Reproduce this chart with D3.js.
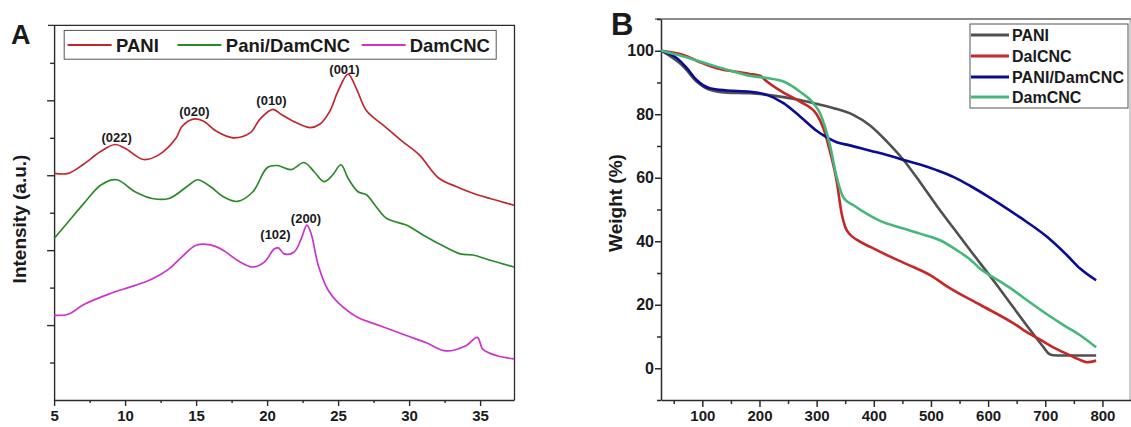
<!DOCTYPE html>
<html>
<head>
<meta charset="utf-8">
<script src="https://cdn.jsdelivr.net/npm/d3@7"></script>
<style>
  html, body { margin: 0; padding: 0; background: #fff; }
  svg { display: block; }
  text { font-family: "Liberation Sans", Arial, sans-serif; fill: #1a1a1a; }
</style>
</head>
<body>
<svg id="chart" width="1131" height="427"></svg>
<script>
// ---------- Panel A: XRD (2θ, arbitrary intensity) ----------
const xrdTicksMajor = [5, 10, 15, 20, 25, 30, 35];
const xrdTicksMinor = [7.5, 12.5, 17.5, 22.5, 27.5, 32.5];
const xrdSeriesNames = ["PANI", "Pani/DamCNC", "DamCNC"];
const xrdPani = [[5,6.05],[6,6.05],[7.1,6.3],[8.3,6.64],[9.3,6.82],[10,6.72],[11.3,6.42],[12.4,6.55],[13.6,7.0],[14,7.3],[14.8,7.5],[15.5,7.45],[16.4,7.18],[17.6,7.0],[18.8,7.13],[19.5,7.5],[20.4,7.76],[21.0,7.62],[21.8,7.45],[23.0,7.27],[23.7,7.36],[24.4,7.7],[25.0,8.25],[25.7,8.7],[26.3,8.3],[27.0,7.72],[28.3,7.3],[29.5,6.91],[30.7,6.55],[32.1,5.92],[33.3,5.7],[34.5,5.52],[35.7,5.38],[37.4,5.2]];
const xrdComposite = [[5,4.31],[6,4.76],[7.1,5.25],[8.3,5.74],[9.4,5.88],[10.7,5.56],[11.9,5.38],[13.1,5.38],[14.5,5.74],[15.1,5.88],[16,5.7],[16.9,5.43],[17.9,5.3],[19,5.56],[20,6.2],[20.7,6.26],[21.7,6.15],[22.6,6.34],[23.3,6.1],[24,5.83],[24.6,6.0],[25.2,6.28],[25.7,5.92],[26.4,5.56],[27,5.48],[27.6,5.2],[28.4,4.85],[29.8,4.67],[31,4.4],[32.1,4.17],[33.6,3.9],[34.5,3.87],[35.7,3.73],[37.4,3.55]];
const xrdDamCNC = [[5,2.26],[6,2.29],[7.1,2.55],[8.8,2.82],[10.7,3.06],[11.9,3.23],[13.1,3.5],[14,3.82],[15,4.13],[16,4.14],[16.9,4.0],[17.9,3.73],[19,3.55],[19.8,3.68],[20.5,4.03],[20.8,4.06],[21.2,3.9],[21.9,3.95],[22.4,4.3],[22.8,4.67],[23.1,4.44],[23.6,3.6],[24.3,2.93],[25,2.6],[26.4,2.2],[27.9,1.99],[29.8,1.72],[31.2,1.53],[32.6,1.31],[34,1.45],[34.8,1.67],[35.2,1.35],[36.2,1.18],[37.4,1.1]];
const xrdPeakLabels = ["(022)", "(020)", "(010)", "(001)", "(102)", "(200)"];
const xrdPeakPos = [[9.4,6.89],[14.88,7.59],[20.31,7.88],[25.45,8.7],[20.59,4.29],[22.74,4.72]];

// ---------- Panel B: TGA ----------
const tgaTicksMajorX = [100, 200, 300, 400, 500, 600, 700, 800];
const tgaTicksMinorX = [50, 150, 250, 350, 450, 550, 650, 750];
const tgaTicksMajorY = [0, 20, 40, 60, 80, 100];
const tgaTicksMinorY = [-10, 10, 30, 50, 70, 90, 110];
const tgaSeriesNames = ["PANI", "DalCNC", "PANI/DamCNC", "DamCNC"];
const tgaPani = [[28,100],[67,95.0],[90,90.3],[113,87.7],[143,86.8],[183,86.6],[213,86.1],[242,85.4],[271,84.5],[306,83.0],[330,81.9],[364,79.8],[394,76.4],[423,71.4],[452,65.6],[481,58.6],[510,51.2],[540,44.0],[569,37.1],[615,26.3],[644,19.2],[673,12.2],[697,6.6],[706,4.6],[714,4.1],[730,4.0],[789,4.0]];
const tgaDalCNC = [[28,100],[67,98.7],[96,96.4],[125,94.5],[154,93.5],[183,92.7],[201,92.1],[213,90.3],[242,86.8],[271,84],[300,80],[312,75.5],[323,68.5],[335,59],[344,48.5],[350,44.5],[358,42.2],[370,40.5],[394,38.2],[440,34.2],[470,31.8],[500,29.2],[528,25.8],[586,20],[644,14.2],[673,10.8],[691,9.0],[714,6.6],[738,4.5],[761,2.6],[773,1.9],[789,2.4]];
const tgaComposite = [[28,100],[55,97.7],[73,94.5],[90,90.8],[113,88.2],[143,87.5],[183,87.1],[213,86.1],[242,83.5],[271,79.3],[300,74.8],[315,73.0],[335,71.2],[358,70.2],[394,68.5],[423,67.2],[452,65.6],[481,64.2],[510,62.4],[540,60.2],[569,57.4],[598,54.3],[627,51.0],[656,47.5],[703,41.4],[738,35.6],[761,31.4],[789,27.7]];
const tgaDamCNC = [[28,100],[67,98.2],[96,96.6],[125,95],[154,93.5],[183,92.1],[213,91.4],[242,90.3],[271,87.1],[294,83.5],[306,80.3],[323,70.5],[335,60.3],[347,53.7],[364,51.4],[388,48.6],[411,46.4],[452,44.0],[481,42.4],[516,40.3],[545,37.2],[569,34.2],[586,31.3],[615,28.0],[644,24.6],[673,20.8],[703,17.0],[732,13.6],[761,10.4],[789,6.6]];

const svg = d3.select("#chart");
const axisColor = "#2b2b2b";
const tickFont = sel => sel.attr("font-size", 15).attr("font-weight", "bold").attr("fill", "#1a1a1a")
  .attr("font-family", "Liberation Sans, Arial, sans-serif");

// ================= PANEL A =================
const xA = d3.scaleLinear().domain([5, 37.4]).range([54.1, 514.2]);
const yA = d3.scaleLinear().domain([0, 10]).range([400, 25.4]);
const gA = svg.append("g");
const colorsA = ["#c1272d", "#2a8a2a", "#cc33cc"];

// frame
gA.append("line").attr("x1", 48).attr("x2", 515).attr("y1", 25.4).attr("y2", 25.4).attr("stroke", axisColor).attr("stroke-width", 1.3);
gA.append("line").attr("x1", 514.5).attr("x2", 514.5).attr("y1", 25.4).attr("y2", 400).attr("stroke", axisColor).attr("stroke-width", 1.3);

// bottom axis
const gAB = gA.append("g").attr("transform", "translate(0,400)")
  .call(d3.axisBottom(xA).tickValues(xrdTicksMajor).tickSize(6).tickSizeOuter(0).tickPadding(4));
gAB.selectAll(".tick text").call(tickFont);
gA.append("g").attr("transform", "translate(0,400)")
  .call(d3.axisBottom(xA).tickValues(xrdTicksMinor).tickSize(3).tickSizeOuter(0).tickFormat(""))
  .select(".domain").remove();
// left axis
gA.append("g").attr("transform", "translate(54.1,0)")
  .call(d3.axisLeft(yA).tickValues([2, 4, 6, 8]).tickSize(7).tickSizeOuter(0).tickFormat(""));
gA.append("g").attr("transform", "translate(54.1,0)")
  .call(d3.axisLeft(yA).tickValues([1, 3, 5, 7, 9]).tickSize(4).tickSizeOuter(0).tickFormat(""))
  .select(".domain").remove();
gA.selectAll(".domain, .tick line").attr("stroke", axisColor).attr("stroke-width", 1.4);

// curves
const lineA = d3.line().x(d => xA(d[0])).y(d => yA(d[1])).curve(d3.curveCatmullRom.alpha(0.5));
[xrdPani, xrdComposite, xrdDamCNC].forEach((s, i) => {
  gA.append("path").datum(s).attr("d", lineA).attr("fill", "none")
    .attr("stroke", colorsA[i]).attr("stroke-width", 1.7);
});

// peak labels
xrdPeakLabels.forEach((t, i) => {
  gA.append("text").attr("x", xA(xrdPeakPos[i][0])).attr("y", yA(xrdPeakPos[i][1]))
    .attr("text-anchor", "middle").attr("font-size", 13).attr("font-weight", "bold").text(t);
});

// legend A
gA.append("rect").attr("x", 64.2).attr("y", 30.4).attr("width", 432).attr("height", 28.8)
  .attr("fill", "#fff").attr("stroke", "#555").attr("stroke-width", 1);
const legA = [[67.6, 111.6, 116], [177.5, 221.4, 225.8], [361.7, 405.7, 409.7]];
legA.forEach((p, i) => {
  gA.append("line").attr("x1", p[0]).attr("x2", p[1]).attr("y1", 45).attr("y2", 45)
    .attr("stroke", colorsA[i]).attr("stroke-width", 1.8);
  gA.append("text").attr("x", p[2]).attr("y", 51.5).attr("font-size", 18.5).attr("font-weight", "bold").text(xrdSeriesNames[i]);
});

// labels A
gA.append("text").attr("x", 11).attr("y", 44).attr("font-family", "Liberation Serif, Times New Roman, serif")
  .attr("font-size", 27).attr("font-weight", "bold").text("A");
gA.append("text").attr("transform", "translate(26,219) rotate(-90)").attr("text-anchor", "middle")
  .attr("font-size", 19).attr("font-weight", "bold").text("Intensity (a.u.)");

// ================= PANEL B =================
const xB = d3.scaleLinear().domain([27.7, 850]).range([661, 1131]);
const yB = d3.scaleLinear().domain([-10, 110]).range([400, 19]);
const gB = svg.append("g");
const colorsB = ["#505050", "#c62828", "#0b0b96", "#44b87a"];

gB.append("line").attr("x1", 655).attr("x2", 1131).attr("y1", 19).attr("y2", 19).attr("stroke", "#666").attr("stroke-width", 1.3);
gB.append("line").attr("x1", 1130).attr("x2", 1130).attr("y1", 19).attr("y2", 400).attr("stroke", "#999").attr("stroke-width", 1);

const gBB = gB.append("g").attr("transform", "translate(0,400)")
  .call(d3.axisBottom(xB).tickValues(tgaTicksMajorX).tickSize(7).tickSizeOuter(0).tickPadding(3));
gBB.selectAll(".tick text").call(tickFont);
gB.append("g").attr("transform", "translate(0,400)")
  .call(d3.axisBottom(xB).tickValues(tgaTicksMinorX).tickSize(4).tickFormat(""))
  .select(".domain").remove();
const gBL = gB.append("g").attr("transform", "translate(661,0)")
  .call(d3.axisLeft(yB).tickValues(tgaTicksMajorY).tickSize(6).tickSizeOuter(0).tickPadding(1));
gBL.selectAll(".tick text").call(tickFont).attr("font-size", 16);
gB.append("g").attr("transform", "translate(661,0)")
  .call(d3.axisLeft(yB).tickValues(tgaTicksMinorY).tickSize(4).tickFormat(""))
  .select(".domain").remove();
gB.selectAll(".domain, .tick line").attr("stroke", axisColor).attr("stroke-width", 1.5);

const lineB = d3.line().x(d => xB(d[0])).y(d => yB(d[1])).curve(d3.curveMonotoneX);
[tgaPani, tgaDalCNC, tgaComposite, tgaDamCNC].forEach((s, i) => {
  gB.append("path").datum(s).attr("d", lineB).attr("fill", "none")
    .attr("stroke", colorsB[i]).attr("stroke-width", 2.6).attr("stroke-linejoin", "round");
});

// legend B
gB.append("rect").attr("x", 970).attr("y", 24).attr("width", 158).attr("height", 84)
  .attr("fill", "#fff").attr("stroke", "#555").attr("stroke-width", 1);
[35, 56, 77, 97].forEach((yy, i) => {
  gB.append("line").attr("x1", 971).attr("x2", 1009).attr("y1", yy).attr("y2", yy)
    .attr("stroke", colorsB[i]).attr("stroke-width", 2.8);
  gB.append("text").attr("x", 1012).attr("y", yy + 6).attr("font-size", 16).attr("font-weight", "bold")
    .attr("textLength", i === 2 ? 112 : null).text(tgaSeriesNames[i]);
});

gB.append("text").attr("x", 611).attr("y", 35).attr("font-family", "Liberation Serif, Times New Roman, serif")
  .attr("font-size", 31).attr("font-weight", "bold").text("B");
gB.append("text").attr("transform", "translate(622,203) rotate(-90)").attr("text-anchor", "middle")
  .attr("font-size", 19).attr("font-weight", "bold").text("Weight (%)");
</script>
</body>
</html>
